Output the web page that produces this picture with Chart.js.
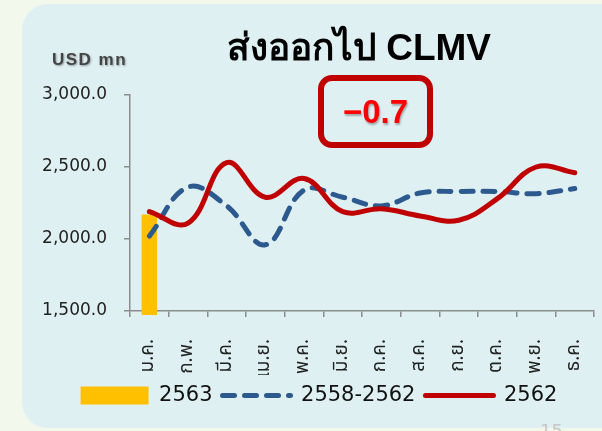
<!DOCTYPE html>
<html>
<head>
<meta charset="utf-8">
<script src="https://cdn.jsdelivr.net/npm/chart.js@4"></script>
<style>
  body { margin: 0; width: 602px; height: 431px; overflow: hidden; background: #f3f8ec; position: relative; font-family: "DejaVu Sans", sans-serif; }
  #panel { position: absolute; left: 22px; top: 4px; width: 620px; height: 424px; border-radius: 26px; background: #dff0f2; }
  #wrap { position: absolute; left: 0; top: 0; width: 620px; height: 431px; }
  #title { position: absolute; left: 159px; top: 17px; width: 400px; text-align: center; font: bold 37px "Liberation Sans", Arial, sans-serif; color: #000; }
  #unit { position: absolute; left: 52px; top: 50px; font: bold 17px "Liberation Sans", Arial, sans-serif; color: #444; letter-spacing: 1.5px; text-shadow: 1px 1px 2px rgba(0,0,0,0.35); }
  #badge { position: absolute; left: 318px; top: 75px; width: 115px; height: 73px; box-sizing: border-box; border: 6px solid #c00000; border-radius: 14px; text-align: center; font: bold 33px "Liberation Sans", Arial, sans-serif; color: #ff0000; line-height: 61px; text-shadow: 1px 2px 2px rgba(0,0,0,0.3); }
  #page { position: absolute; left: 540px; top: 420px; font: 18px "DejaVu Sans", sans-serif; color: #c8c8c8; }
</style>
</head>
<body>
<div id="panel"></div>
<div id="page">15</div>
<div id="wrap"><canvas id="chart" width="620" height="431"></canvas></div>
<div id="title">ส่งออกไป CLMV</div>
<div id="unit">USD mn</div>
<div id="badge">−0.7</div>
<script>
// months (Thai abbreviations)
var months = ["ม.ค.", "ก.พ.", "มี.ค.", "เม.ย.", "พ.ค.", "มิ.ย.", "ก.ค.", "ส.ค.", "ก.ย.", "ต.ค.", "พ.ย.", "ธ.ค."];

// series values, USD mn
var values2563 = [2170, 0, 0, 0, 0, 0, 0, 0, 0, 0, 0, 0];
var avg2558to2562 = [2020, 2360, 2230, 1960, 2340, 2290, 2230, 2320, 2330, 2330, 2315, 2350];
var values2562 = [2190, 2110, 2530, 2290, 2420, 2190, 2210, 2160, 2130, 2280, 2500, 2460];

// y axis
var yMin = 1500;
var yMax = 3000;
var yStep = 500;

var axisGrey = "#8c8c8c";
var thaiFont = "'Noto Sans Thai', Tahoma, 'DejaVu Sans', sans-serif";
var avgDash = [12, 10];

var ctx = document.getElementById("chart");

var chart = new Chart(ctx, {
    type: "line",
    data: {
        labels: months,
        datasets: [
            {
                type: "bar",
                label: "2563",
                data: values2563,
                backgroundColor: "#ffc000",
                borderWidth: 0,
                barPercentage: 0.4,
                categoryPercentage: 1,
                pointStyle: "rect",
                clip: { left: 0, top: 0, right: 0, bottom: 4 },
                order: 3
            },
            {
                label: "2558-2562",
                data: avg2558to2562,
                borderColor: "#2d5a8e",
                backgroundColor: "#2d5a8e",
                borderWidth: 5,
                borderDash: avgDash,
                borderCapStyle: "round",
                segment: { borderDash: function () { return avgDash; } },
                tension: 0.4,
                pointRadius: 0,
                pointStyle: "line",
                order: 2
            },
            {
                label: "2562",
                data: values2562,
                borderColor: "#c00000",
                backgroundColor: "#c00000",
                borderWidth: 5,
                borderCapStyle: "round",
                tension: 0.4,
                pointRadius: 0,
                pointStyle: "line",
                order: 1
            }
        ]
    },
    options: {
        responsive: false,
        animation: false,
        layout: {
            padding: { left: 28, top: 95, right: 10, bottom: 15 }
        },
        scales: {
            x: {
                z: 1,
                offset: true,
                grid: {
                    offset: true,
                    drawOnChartArea: false,
                    drawTicks: true,
                    tickLength: 6,
                    color: axisGrey,
                    lineWidth: 1.5
                },
                border: { color: axisGrey, width: 1.5 },
                ticks: {
                    autoSkip: false,
                    minRotation: 90,
                    maxRotation: 90,
                    padding: 22,
                    color: "#222",
                    font: { family: thaiFont, size: 19 }
                },
                afterFit: function (scale) { scale.height = 64; }
            },
            y: {
                min: yMin,
                max: yMax,
                grid: {
                    drawOnChartArea: false,
                    drawTicks: true,
                    tickLength: 6,
                    color: axisGrey,
                    lineWidth: 1.5
                },
                border: { color: axisGrey, width: 1.5 },
                ticks: {
                    stepSize: yStep,
                    padding: 17,
                    color: "#222",
                    font: { family: "'DejaVu Sans', sans-serif", size: 17 },
                    callback: function (v) {
                        return v.toLocaleString("en-US", { minimumFractionDigits: 1, maximumFractionDigits: 1 });
                    }
                },
                afterFit: function (scale) { scale.width = 102; }
            }
        },
        plugins: {
            tooltip: { enabled: false },
            legend: {
                display: true,
                position: "bottom",
                labels: {
                    usePointStyle: true,
                    pointStyleWidth: 68,
                    boxHeight: 18,
                    padding: 10,
                    color: "#111",
                    font: { family: "'DejaVu Sans', sans-serif", size: 21 },
                    sort: function (a, b) { return a.datasetIndex - b.datasetIndex; },
                    // point-style legend items lose the dataset dash, put it back
                    generateLabels: function (ch) {
                        var items = Chart.defaults.plugins.legend.labels.generateLabels(ch);
                        items.forEach(function (it) {
                            var d = ch.data.datasets[it.datasetIndex];
                            if (d.borderDash) it.lineDash = d.borderDash;
                            if (d.borderCapStyle) it.lineCap = d.borderCapStyle;
                        });
                        return items;
                    }
                }
            }
        }
    }
});
</script>
</body>
</html>
